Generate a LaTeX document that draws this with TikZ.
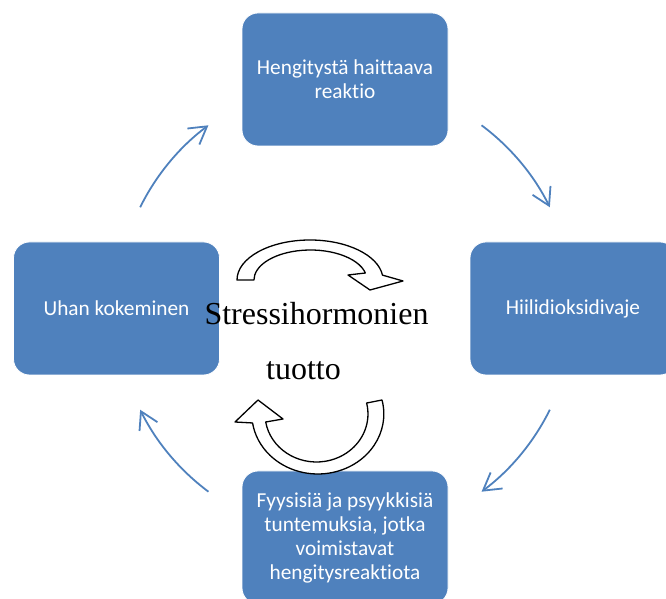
\documentclass[tikz,border=0pt]{standalone}
\usepackage{fontspec}
\setmainfont{Liberation Serif}
\newfontfamily\boxfont[Ligatures=NoCommon]{Carlito}
\usetikzlibrary{arrows.meta}
\definecolor{officeblue}{HTML}{4F81BD}
\tikzset{
  cyclebox/.style={fill=officeblue,draw=white,line width=0.8pt,rounded corners=16pt,
    minimum width=206pt,minimum height=133pt,inner sep=0pt,align=center,text=white,
    font=\boxfont\fontsize{21.3}{24}\selectfont},
  cyclearrow/.style={draw=officeblue,line width=1.8pt,
    -{Straight Barb[length=17pt,width=20pt,line width=1.8pt]}},
  turnarrow/.style={draw=black,fill=white,line width=1.3pt,line join=round},
  bigtext/.style={anchor=base,inner sep=0pt,font=\fontsize{32}{36}\selectfont}
}
\begin{document}
\begin{tikzpicture}[x=1pt,y=1pt]
  \useasboundingbox (0,0) rectangle (666,599);
  \coordinate (hub) at (345,290.5);
  \node[cyclebox] (reaktio) at (345,519.5) {Hengitystä haittaava\\reaktio};
  \node[cyclebox] (vaje) at (573,290.5) {Hiilidioksidivaje};
  \node[cyclebox] (tuntemus) at (345,61.5) {Fyysisiä ja psyykkisiä\\tuntemuksia, jotka\\voimistavat\\hengitysreaktiota};
  \node[cyclebox] (uhka) at (116.5,290.5) {Uhan kokeminen};
  % cycle arrows between the boxes
  \foreach \s in {153.7,53.3,-26.3,-126.7}
    \draw[cyclearrow] (hub) ++(\s:228.5) arc[start angle=\s,delta angle=-27,radius=228.5];
  % turning arrows round the centre text
  \draw[turnarrow] (237,319) arc[start angle=180,end angle=7,x radius=73,y radius=40]
    -- (403,318) -- (370,309) -- (348,324) -- (365.4,326)
    arc[start angle=13.5,end angle=180,x radius=56.5,y radius=30] -- cycle;
  \draw[turnarrow] (382,199) arc[start angle=13.5,end angle=-171.4,x radius=66,y radius=60]
    -- (235,177) -- (258,199) -- (283,180) -- (265.7,177)
    arc[start angle=-170.4,end angle=13.2,x radius=51.5,y radius=48] -- cycle;
  \node[bigtext] (stress) at (316.5,274) {Stressihormonien};
  \node[bigtext] (tuotto) at (303.5,219) {tuotto};
\end{tikzpicture}
\end{document}
